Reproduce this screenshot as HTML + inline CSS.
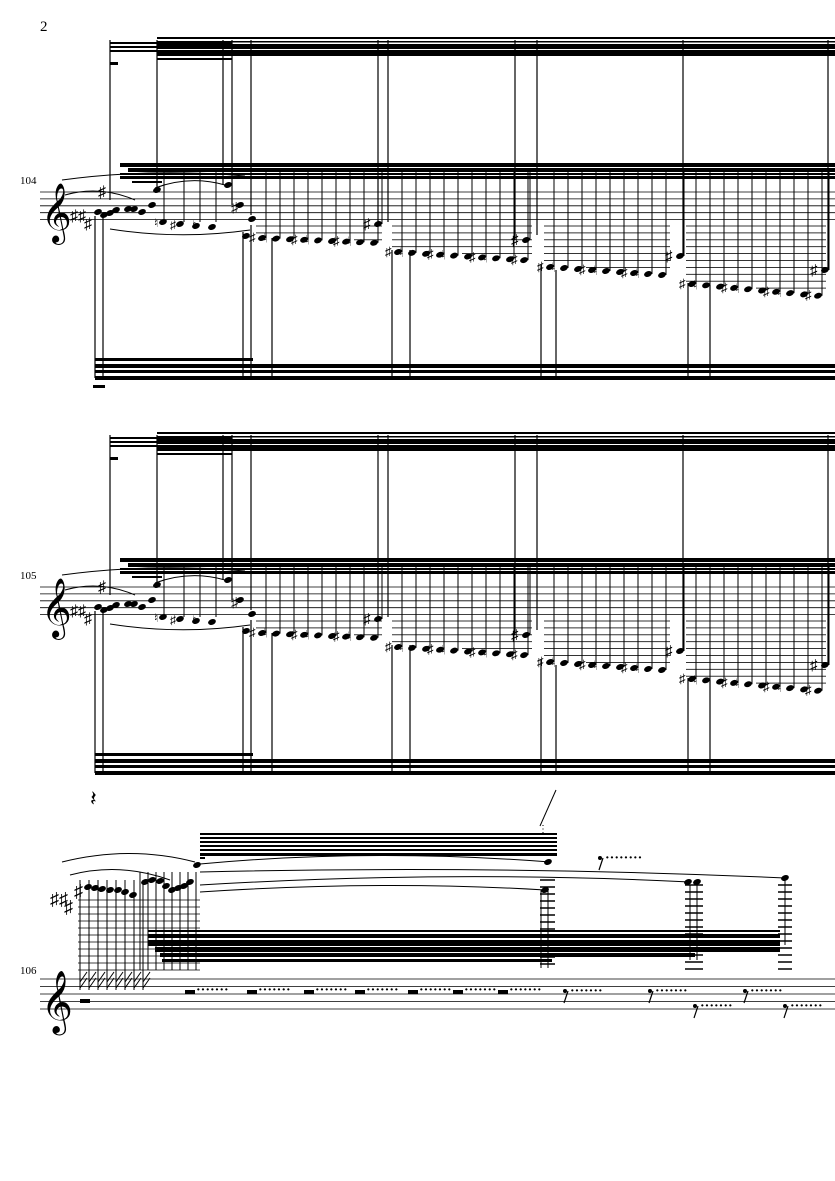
<!DOCTYPE html>
<html><head><meta charset="utf-8"><style>
body{margin:0;background:#fff;width:835px;height:1181px;overflow:hidden}
svg{position:absolute;left:0;top:0}
text{font-family:"Liberation Serif",serif}
</style></head><body>
<svg id="s" width="835" height="1181" viewBox="0 0 835 1181">
<text x="40" y="31" font-size="15">2</text>
<text x="20" y="184" font-size="11">104</text>
<text x="20" y="579" font-size="11">105</text>
<text x="20" y="974" font-size="11">106</text>
</svg>
<script>
var s=document.getElementById('s'),h='';
function L(x1,y1,x2,y2,w){h+='<line x1="'+x1+'" y1="'+y1+'" x2="'+x2+'" y2="'+y2+'" stroke="#000" stroke-width="'+(w||1)+'"/>';}
function R(x,y,w,hh){h+='<rect x="'+x+'" y="'+y+'" width="'+w+'" height="'+hh+'"/>';}
function N(x,y){h+='<ellipse cx="'+x+'" cy="'+y+'" rx="4" ry="2.8" transform="rotate(-20 '+x+' '+y+')"/>';}
function T(x,y,t,sz,b){h+='<text x="'+x+'" y="'+y+'" font-size="'+sz+'"'+(b?' font-weight="bold"':'')+'>'+t+'</text>';}
function sys(o){
  for(var i=0;i<5;i++)L(40,192+o+i*6.9,835,192+o+i*6.9,0.8);
  T(41,230+o,'𝄞',52);
  R(110,42+o,122,2);R(110,46+o,122,2);R(110,50+o,122,2);
  R(157,37+o,678,2);R(157,41+o,678,1.5);R(157,44+o,678,5);R(157,50+o,678,6);
  R(157,58+o,75,2);R(110,62+o,8,3);
  R(120,163+o,715,4);R(128,168+o,707,4);R(120,173+o,715,2);R(120,176+o,715,3);
  R(132,181+o,30,2);
  R(95,358+o,158,3);R(95,364+o,740,4);R(95,370+o,740,3);R(95,376+o,740,4);
  if(o==0)R(93,385,12,3);else T(90,806,'𝄽',22);
  [110,157,223,232,251,378,388,515,537,683,828].forEach(function(x,i){var y=[200,190,185,205,215,224,222,240,235,255,270][i];L(x,40+o,x,y+o,1.2);});
  [95,103,243,251,272,392,410,541,556,688,710].forEach(function(x,i){var y=[216,212,232,225,238,250,250,265,270,283,285][i];L(x,y+o,x,378+o,1.2);});
  N(98,212+o);N(104,215+o);N(110,213+o);N(116,210+o);N(128,209+o);N(134,209+o);N(142,212+o);N(152,205+o);N(157,190+o);
  T(70,221+o,'♯♯',16);T(84,229+o,'♯',16);T(98,197+o,'♯',16);
  N(163,222+o);N(180,224+o);N(196,226+o);N(212,227+o);N(228,185+o);N(240,205+o);N(246,236+o);N(252,219+o);
  T(154,227+o,'♮',12);T(170,229+o,'♯',12);T(192,229+o,'♮',12);T(231,212+o,'♯',14);
  [160,180,196,212].forEach(function(x){L(x+4,222+o,x+4,170+o,1);});
  h+='<path d="M62 '+(180+o)+' Q150 '+(168+o)+' 245 '+(176+o)+'" fill="none" stroke="#000"/>';
  h+='<path d="M155 '+(188+o)+' Q190 '+(175+o)+' 225 '+(185+o)+'" fill="none" stroke="#000"/>';
  h+='<path d="M110 '+(229+o)+' Q180 '+(240+o)+' 250 '+(230+o)+'" fill="none" stroke="#000"/>';
  h+='<path d="M65 '+(195+o)+' Q100 '+(185+o)+' 135 '+(200+o)+'" fill="none" stroke="#000"/>';
  var groups=[[262,238,14,9,0.6],[398,252,14,10,0.9],[550,267,14,9,1],[692,284,14,10,1.3]];
  groups.forEach(function(g){
    for(var k=0;k<g[3];k++){var x=g[0]+k*g[2],y=g[1]+k*g[4];
      N(x,y+o);L(x+4,y+o,x+4,168+o,1);
      for(var ly=226;ly<y-2;ly+=6.9)L(x-6,ly+o,x+8,ly+o,0.8);
      if(k%3!=2)T(x-13,y+4+o,k%3==0?'♯':'♮',13);}
  });
  [[378,224],[526,240],[680,256],[825,270]].forEach(function(p){N(p[0],p[1]+o);T(p[0]-15,p[1]+5+o,'♯',15);L(p[0]+4,p[1]+o,p[0]+4,168+o,1);});
}
sys(0);sys(395);
for(var i=0;i<5;i++)L(40,979+i*7.5,835,979+i*7.5,0.8);
T(41,1020,'𝄞',54);
R(200,833,357,2);R(200,837,357,2);R(200,841,357,2);R(200,845,357,2);R(200,849,357,2);R(200,853,357,3);R(200,857,5,2);
R(148,930,632,2);R(148,934,632,4);R(148,940,632,6);R(155,947,625,5);R(160,953,535,4);R(162,959,390,3);
L(540,826,556,790,1);T(538,832,'⋮',10);
for(var y=900;y<=975;y+=7)L(78,y,200,y,0.8);
for(var x=80;x<=148;x+=9)L(x,880,x,975,1);
for(var x=140;x<=200;x+=8)L(x,872,x,970,1);
for(var y=880;y<=970;y+=7)L(540,y,555,y,1.5);
for(var y=885;y<=970;y+=7)L(685,y,703,y,1.5);
for(var y=885;y<=970;y+=7)L(778,y,792,y,1.5);
L(541,890,541,968,1);L(548,890,548,968,1);L(690,885,690,960,1);L(697,885,697,960,1);L(785,880,785,945,1);
[[88,887],[95,888],[102,889],[110,890],[118,890],[125,892],[133,895],[145,882],[152,880],[160,881],[166,886],[172,890],[178,888],[184,886],[190,882],[197,865],[548,862],[545,890],[688,882],[697,882],[785,878]].forEach(function(p){N(p[0],p[1]);});
T(50,905,'♯♯',18);T(64,913,'♯',18);T(74,897,'♯',18);
h+='<path d="M62 862 Q130 845 195 862" fill="none" stroke="#000"/>';
h+='<path d="M200 864 Q370 848 550 862" fill="none" stroke="#000"/>';
h+='<path d="M200 872 Q500 865 785 878" fill="none" stroke="#000"/>';
h+='<path d="M200 885 Q450 870 690 882" fill="none" stroke="#000"/>';
h+='<path d="M200 892 Q380 880 545 890" fill="none" stroke="#000"/>';
h+='<path d="M70 875 Q120 862 170 880" fill="none" stroke="#000"/>';
for(var x=80;x<=148;x+=9){L(x,975,x,990,1);L(x,982,x+7,972,1);L(x,988,x+7,978,1);}
R(80,999,10,4);
[185,247,304,355,408,453,498].forEach(function(x){R(x,990,10,4);T(x+11,994,'·······',14,1);});
[[560,995],[645,995],[740,995],[690,1010],[780,1010]].forEach(function(p){L(p[0]+8,p[1]-4,p[0]+4,p[1]+8,1.2);h+='<circle cx="'+(p[0]+5)+'" cy="'+(p[1]-4)+'" r="2"/>';T(p[0]+10,p[1],'·······',14,1);});
L(603,858,599,870,1.2);h+='<circle cx="600" cy="858" r="2"/>';T(605,862,'········',14,1);
s.innerHTML+=h;
</script>
</body></html>
